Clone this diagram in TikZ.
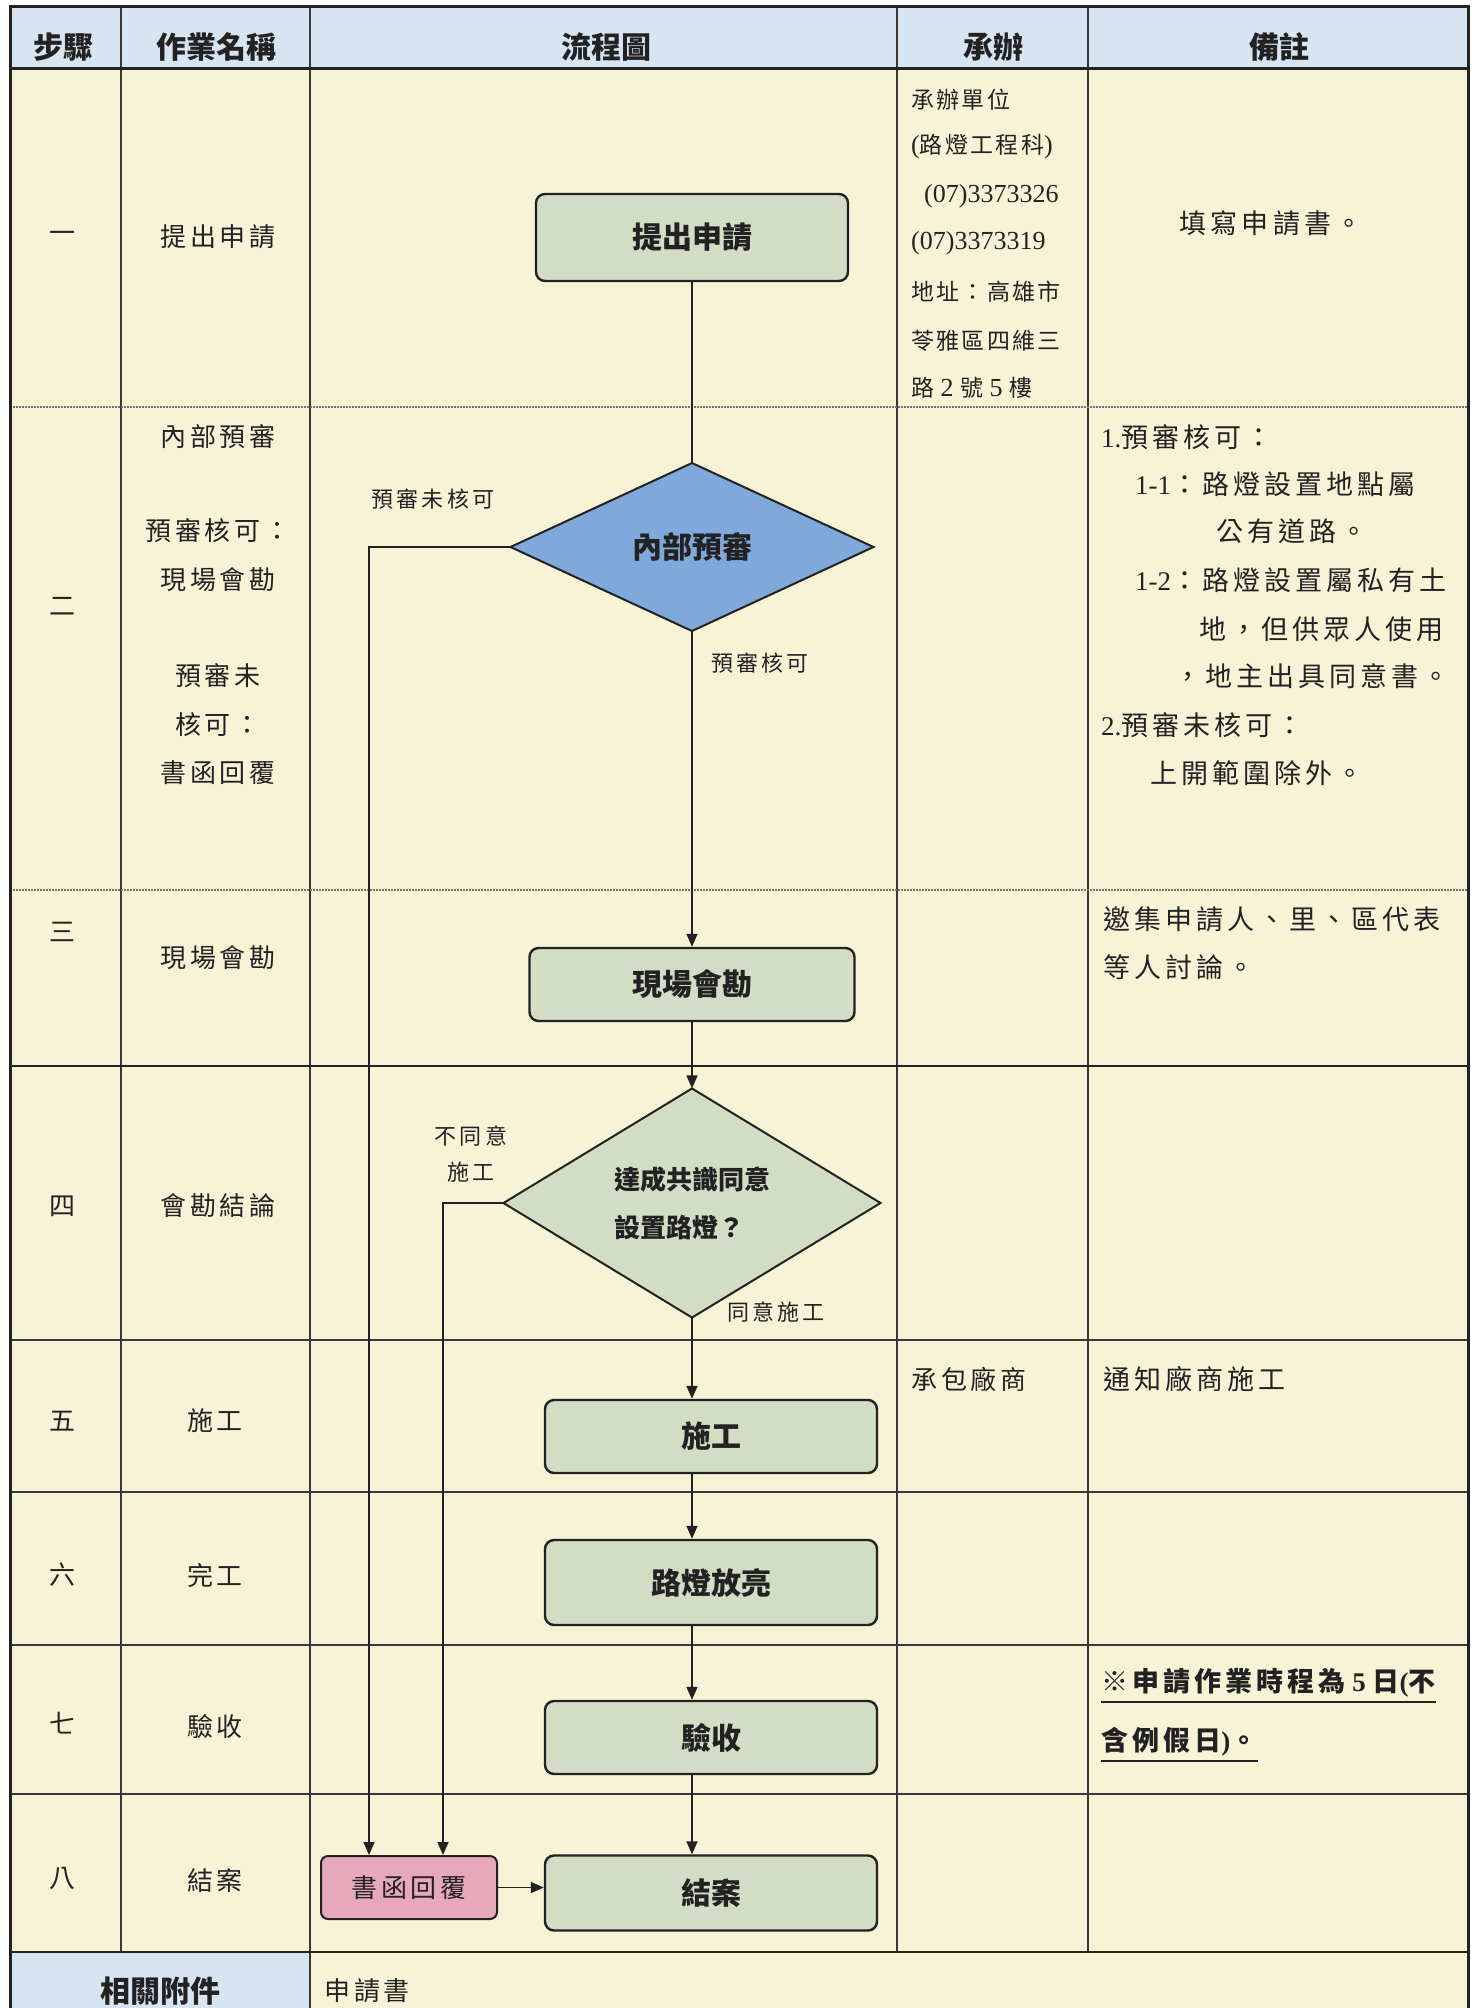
\documentclass[tikz,border=0pt]{standalone}
\usepackage{fontspec}
\usetikzlibrary{shapes.geometric,arrows.meta}
\setmainfont{Liberation Serif}
\newfontfamily\cjk{Noto Sans CJK TC}
\newfontfamily\cjks{Noto Sans CJK TC}[LetterSpace=15]
\newfontfamily\cjkt{Noto Sans CJK TC}[LetterSpace=10]
\newfontfamily\cjkl{Noto Sans CJK TC}[LetterSpace=14]
\newfontfamily\lat{Liberation Serif}
\newcommand\myfs[1]{\fontsize{#1}{#1}\selectfont}
\definecolor{cream}{HTML}{F7F3D6}
\definecolor{headblue}{HTML}{D7E5F2}
\definecolor{boxgreen}{HTML}{D3DDC5}
\definecolor{diablue}{HTML}{7FA8DB}
\definecolor{pinkc}{HTML}{E8A8BC}
\definecolor{ink}{HTML}{222222}
\begin{document}
\begin{tikzpicture}[x=1pt,y=-1pt,
  proc/.style={draw=ink, line width=2.4pt, fill=boxgreen, rounded corners=9pt, inner sep=0pt, font={\cjk\bfseries\myfs{30}}, text=ink},
  dec/.style={diamond, draw=ink, line width=2pt, inner sep=0pt, outer sep=0pt, text=ink},
  arr/.style={line width=1.6pt, draw=ink, -{Triangle[length=13pt,width=11pt]}},
  ln/.style={line width=1.6pt, draw=ink},
  txt/.style={inner sep=0pt, text=ink},
  lbl/.style={inner sep=0pt, text=ink, font={\cjkl\myfs{22}}},
  hd/.style={inner sep=0pt, text=ink, font={\cjk\bfseries\myfs{30}}},
  body/.style={inner sep=0pt, text=ink, font={\cjks\myfs{26}}},
  note/.style={inner sep=0pt, text=ink, font={\cjks\myfs{27}}, anchor=west},
  cont/.style={inner sep=0pt, text=ink, font={\cjkt\myfs{23}}, anchor=west},
  grid/.style={line width=1.5pt, draw=ink!90},
  dotl/.style={line width=1.4pt, draw=black!55, dash pattern=on 1.5pt off 1.5pt},
  ul/.style={line width=2pt, draw=ink}
]
\useasboundingbox (0,0) rectangle (1476,2008);
\fill[white] (0,0) rectangle (1476,2008);
% table background
\fill[cream] (10,6) rectangle (1468,2008);
\fill[headblue] (10,6) rectangle (1468,68);
\fill[headblue] (10,1952) rectangle (310,2008);
% column lines
\draw[grid] (121,6) -- (121,1952);
\draw[grid] (310,6) -- (310,2008);
\draw[grid] (897,6) -- (897,1952);
\draw[grid] (1088,6) -- (1088,1952);
% row lines
\draw[dotl] (10,407) -- (1468,407);
\draw[dotl] (10,890) -- (1468,890);
\draw[line width=2pt, draw=ink] (10,1066) -- (1468,1066);
\draw[grid] (10,1340) -- (1468,1340);
\draw[grid] (10,1492) -- (1468,1492);
\draw[grid] (10,1645) -- (1468,1645);
\draw[grid] (10,1794) -- (1468,1794);
\draw[line width=2pt, draw=ink] (10,1952) -- (1468,1952);
\draw[line width=3pt, draw=ink] (10,68) -- (1468,68);
% outer border
\draw[line width=3pt, draw=ink] (10,2008) -- (10,6) -- (1468,6) -- (1468,2008);

% header
\node[hd] (h1) at (63,47) {步驟};
\node[hd] (h2) at (216,47) {作業名稱};
\node[hd] (h3) at (606,47) {流程圖};
\node[hd] (h4) at (993,47) {承辦};
\node[hd] (h5) at (1279,47) {備註};

% step column
\node[txt, font={\cjk\myfs{26}}] (n1) at (62,237) {一};
\node[txt, font={\cjk\myfs{26}}] (n2) at (62,606) {二};
\node[txt, font={\cjk\myfs{26}}] (n3) at (62,932) {三};
\node[txt, font={\cjk\myfs{26}}] (n4) at (62,1206) {四};
\node[txt, font={\cjk\myfs{26}}] (n5) at (62,1421) {五};
\node[txt, font={\cjk\myfs{26}}] (n6) at (62,1575) {六};
\node[txt, font={\cjk\myfs{26}}] (n7) at (62,1723) {七};
\node[txt, font={\cjk\myfs{26}}] (n8) at (62,1878) {八};

% task name column
\node[body] (w1) at (218,237) {提出申請};
\node[body] (w2a) at (218,437) {內部預審};
\node[body] (w2b) at (218,531) {預審核可：};
\node[body] (w2c) at (218,580) {現場會勘};
\node[body] (w2d) at (218,676) {預審未};
\node[body] (w2e) at (218,725) {核可：};
\node[body] (w2f) at (218,773) {書函回覆};
\node[body] (w3) at (218,958) {現場會勘};
\node[body] (w4) at (218,1206) {會勘結論};
\node[body] (w5) at (215,1421) {施工};
\node[body] (w6) at (215,1575) {完工};
\node[body] (w7) at (215,1726) {驗收};
\node[body] (w8) at (215,1881) {結案};

% contact column
\node[cont] (c1a) at (911,100) {承辦單位};
\node[cont] (c1b) at (911,147) {{\lat\myfs{26}(}路燈工程科{\lat\myfs{26})}};
\node[cont, font={\lat\myfs{26}}] (c1c) at (924,196) {(07)3373326};
\node[cont, font={\lat\myfs{26}}] (c1d) at (911,243) {(07)3373319};
\node[cont] (c1e) at (911,292) {地址：高雄市};
\node[cont] (c1f) at (911,341) {苓雅區四維三};
\node[cont] (c1g) at (911,388) {路{\lat\myfs{26}\ 2\ }號{\lat\myfs{26}\ 5\ }樓};
\node[note, font={\cjks\myfs{26}}] (c5) at (911,1379) {承包廠商};

% remarks column
\node[txt, font={\cjks\myfs{27}}] (r1) at (1271,223) {填寫申請書。};
\node[note] (r2a) at (1101,437) {{\lat 1.}預審核可：};
\node[note] (r2b) at (1135,484) {{\lat 1-1}：路燈設置地點屬};
\node[note] (r2c) at (1216,531) {公有道路。};
\node[note] (r2d) at (1135,580) {{\lat 1-2}：路燈設置屬私有土};
\node[note] (r2e) at (1199,629) {地，但供眾人使用};
\node[note] (r2f) at (1174,676) {，地主出具同意書。};
\node[note] (r2g) at (1101,725) {{\lat 2.}預審未核可：};
\node[note] (r2h) at (1150,773) {上開範圍除外。};
\node[note] (r3a) at (1103,919) {邀集申請人、里、區代表};
\node[note] (r3b) at (1103,967) {等人討論。};
\node[note] (r5) at (1103,1379) {通知廠商施工};
\node[note, font={\cjks\bfseries\myfs{27}}] (r7a) at (1101,1683) {※申請作業時程為{\lat\bfseries\ 5\ }日{\lat\bfseries (}不};
\node[note, font={\cjks\bfseries\myfs{27}}] (r7b) at (1101,1742) {含例假日{\lat\bfseries )}。};
\draw[ul] ([yshift=-4pt]r7a.south west) -- ([yshift=-4pt]r7a.south east);
\draw[ul] ([yshift=-4pt]r7b.south west) -- ([yshift=-4pt]r7b.south east);

% footer
\node[txt, font={\cjk\bfseries\myfs{30}}] (f1) at (160,1991) {相關附件};
\node[note, font={\cjks\myfs{26}}] (f2) at (324,1991) {申請書};

% flowchart
\node[proc, minimum width=312pt, minimum height=87pt] (s1) at (692,237.5) {提出申請};
\node[dec, fill=diablue, minimum width=363pt, minimum height=168pt, font={\cjk\bfseries\myfs{30}}] (d1) at (692,547) {內部預審};
\node[proc, minimum width=325pt, minimum height=73pt] (s3) at (692,984.5) {現場會勘};
\node[dec, fill=boxgreen, minimum width=377pt, minimum height=223pt, align=left, font={\cjk\bfseries\fontsize{26}{48}\selectfont}] (d2) at (692,1203) {達成共識同意\\設置路燈？};
\node[proc, minimum width=332pt, minimum height=73pt] (s5) at (711,1436.5) {施工};
\node[proc, minimum width=332pt, minimum height=85pt] (s6) at (711,1582.5) {路燈放亮};
\node[proc, minimum width=332pt, minimum height=73pt] (s7) at (711,1737.5) {驗收};
\node[proc, minimum width=332pt, minimum height=75pt] (s8) at (711,1893) {結案};
\node[proc, fill=pinkc, minimum width=176pt, minimum height=63pt, rounded corners=7pt, line width=2pt, font={\cjks\myfs{26}}] (rp) at (409,1887.5) {書函回覆};

\coordinate (k1) at (369,547);
\coordinate (k2) at (443,1203);
\draw[ln] (s1.south) -- (d1.north);
\draw[arr] (d1.south) -- (s3.north);
\draw[arr] (d1.west) -- (k1) -- (k1 |- rp.north);
\draw[arr] (s3.south) -- (d2.north);
\draw[arr] (d2.west) -- (k2) -- (k2 |- rp.north);
\draw[arr] (d2.south) -- (d2.south |- s5.north);
\draw[arr] (s5.south -| d2.south) -- (s6.north -| d2.south);
\draw[arr] (s6.south -| d2.south) -- (s7.north -| d2.south);
\draw[arr] (s7.south -| d2.south) -- (s8.north -| d2.south);
\draw[arr] (rp.east) -- (rp.east -| s8.west);

% connector labels
\node[lbl] (l1) at (433,499) {預審未核可};
\node[lbl] (l2) at (760,663) {預審核可};
\node[lbl] (l3) at (471,1136) {不同意};
\node[lbl] (l4) at (471,1172) {施工};
\node[lbl] (l5) at (776,1312) {同意施工};
\end{tikzpicture}
\end{document}
